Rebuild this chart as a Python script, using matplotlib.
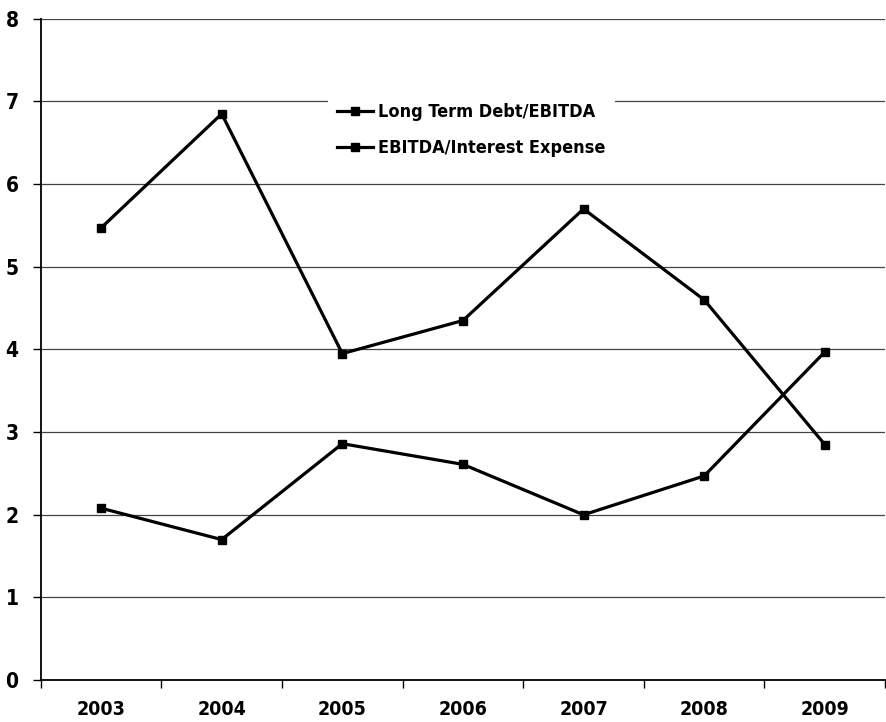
import matplotlib.pyplot as plt
import numpy as np

years = ['2003', '2004', '2005', '2006', '2007', '2008', '2009']
debt_ebitda = [5.47, 6.85, 3.95, 4.35, 5.70, 4.60, 2.85]
ebitda_interest = [2.08, 1.70, 2.86, 2.61, 2.00, 2.47, 3.97]

plt.rcParams['font.family'] = ['DejaVu Sans']
plt.rcParams['font.stretch'] = 'condensed'
plt.rcParams['font.weight'] = 'bold'

fig = plt.figure(figsize=(8.86, 7.22), dpi=100)
ax = fig.add_axes([0.046, 0.058, 0.953, 0.916])

x = np.arange(len(years))
ax.plot(x, debt_ebitda, color='black', lw=2.3, marker='s', ms=6, label='Long Term Debt/EBITDA', zorder=3)
ax.plot(x, ebitda_interest, color='black', lw=2.3, marker='s', ms=6, label='EBITDA/Interest Expense', zorder=3)

ax.set_xlim(-0.5, len(years) - 0.5)
ax.set_ylim(0, 8)
ax.set_yticks(range(0, 9))
ax.set_xticks(x)
ax.set_xticklabels(years)
ax.set_xticks(np.arange(-0.5, len(years)), minor=True)
ax.tick_params(axis='x', which='major', length=0, pad=14, labelsize=14)
ax.tick_params(axis='x', which='minor', length=6, width=1, direction='out')
ax.tick_params(axis='y', length=6, width=1, labelsize=15, pad=10)

ax.yaxis.grid(True, color='#444444', lw=0.9)
ax.set_axisbelow(True)
for s in ['top', 'right']:
    ax.spines[s].set_visible(False)
for s in ['left', 'bottom']:
    ax.spines[s].set_linewidth(1.3)

leg = ax.legend(loc='upper center', bbox_to_anchor=(0.51, 0.9), frameon=True, fontsize=13,
                handlelength=2.0, borderpad=0.5, labelspacing=1.0, handletextpad=0.3)
leg.get_frame().set_edgecolor('none')
leg.get_frame().set_facecolor('white')
leg.get_frame().set_alpha(1)

fig.savefig('out.png', dpi=100)
